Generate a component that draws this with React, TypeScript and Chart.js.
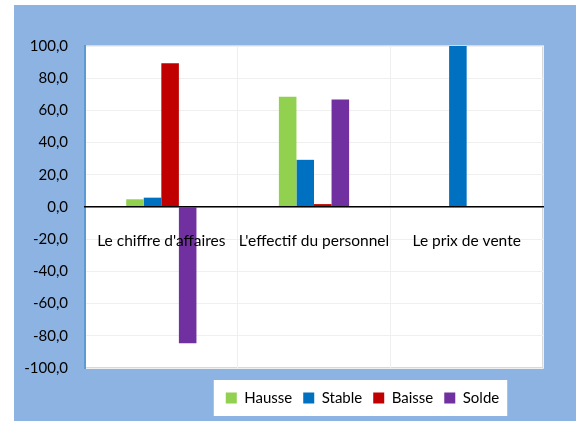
import React, { useEffect, useRef } from "react";
import { Chart, registerables } from "chart.js";

Chart.register(...registerables);

const categories = ["Le chiffre d'affaires", "L'effectif du personnel", "Le prix de vente"];
const hausse = [4.8, 68.5, 0];
const stable = [5.8, 29.3, 100];
const baisse = [89.3, 1.8, 0];
const solde = [-84.7, 66.7, 0];
const seriesNames = ["Hausse", "Stable", "Baisse", "Solde"];
const seriesColors = ["#92D050", "#0070C0", "#C00000", "#7030A0"];
const yTicks = { min: -100, max: 100, step: 20 };

const FONT = "Lato";

const bgPlugin = {
  id: "bgPlugin",
  afterLayout(chart: any) {
    const legend = chart.legend;
    if (legend) {
      const dx = 84;
      legend.left += dx;
      legend.right += dx;
    }
  },
  beforeDraw(chart: any) {
    const { ctx, chartArea } = chart;
    ctx.save();
    ctx.fillStyle = "#ffffff";
    ctx.fillRect(0, 0, chart.width, chart.height);
    ctx.fillStyle = "#8DB3E2";
    ctx.fillRect(14, 5, chart.width - 14, chart.height - 5);
    // plot area
    ctx.fillStyle = "#ffffff";
    ctx.fillRect(chartArea.left, chartArea.top, chartArea.right - chartArea.left, chartArea.bottom - chartArea.top);
    ctx.strokeStyle = "#D9D9D9";
    ctx.lineWidth = 2;
    ctx.beginPath();
    ctx.moveTo(chartArea.left, chartArea.top);
    ctx.lineTo(chartArea.right, chartArea.top);
    ctx.lineTo(chartArea.right, chartArea.bottom);
    ctx.lineTo(chartArea.left, chartArea.bottom);
    ctx.stroke();
    // legend box
    const legend = chart.legend;
    if (legend && legend.legendHitBoxes && legend.legendHitBoxes.length) {
      const hbs = legend.legendHitBoxes;
      let minL = Infinity, maxR = -Infinity;
      hbs.forEach((h: any) => {
        minL = Math.min(minL, h.left);
        maxR = Math.max(maxR, h.left + h.width);
      });
      const cy = hbs[0].top + hbs[0].height / 2;
      ctx.fillStyle = "#ffffff";
      ctx.fillRect(minL - 12, cy - 18, maxR - minL + 20, 36);
    }
    ctx.restore();
  },
};

export default function App() {
  const ref = useRef<HTMLCanvasElement | null>(null);
  useEffect(() => {
    if (!ref.current) return;
    const seriesData = [hausse, stable, baisse, solde];
    const chart = new Chart(ref.current, {
      type: "bar",
      data: {
        labels: categories,
        datasets: seriesNames.map((n, i) => ({
          label: n,
          data: seriesData[i],
          backgroundColor: seriesColors[i],
          borderWidth: 0,
          categoryPercentage: 0.46,
          barPercentage: 1.0,
        })),
      },
      options: {
        animation: false,
        responsive: false,
        devicePixelRatio: 1,
        layout: { padding: { left: 14, right: 33, top: 46, bottom: 5.5 } },
        plugins: {
          tooltip: { enabled: false },
          legend: {
            position: "bottom",
            labels: {
              boxWidth: 11,
              boxHeight: 11,
              padding: 11,
              color: "#000000",
              font: { family: FONT, size: 15 },
            },
          },
        },
        scales: {
          x: {
            type: "category",
            position: { y: 0 } as any,
            grid: { color: "#EFEFEF", lineWidth: 1, drawTicks: false, offset: true },
            border: { color: "#000000", width: 1.5, z: 1 },
            ticks: { z: 1, padding: 25, color: "#000000", font: { family: FONT, size: 15.5 }, maxRotation: 0, autoSkip: false },
            afterFit: (s: any) => { s.height = 0; },
          },
          x2: {
            type: "category",
            position: "bottom",
            display: true,
            grid: { display: false },
            border: { display: false },
            ticks: { display: false },
            afterFit: (s: any) => { s.height = 11.5; },
          },
          y: {
            min: yTicks.min,
            max: yTicks.max,
            grid: { color: "#EFEFEF", lineWidth: 1, drawTicks: false },
            border: { color: "#5B9BD5", width: 2 },
            ticks: {
              stepSize: yTicks.step,
              padding: 17,
              color: "#000000",
              font: { family: FONT, size: 15 },
              callback: (v: any) => Number(v).toFixed(1).replace(".", ","),
            },
            afterFit: (s: any) => { s.width = 71; },
          },
        },
      } as any,
      plugins: [bgPlugin],
    });
    return () => chart.destroy();
  }, []);
  return (
    <div style={{ position: "absolute", left: 0, top: 0, width: 576, height: 421 }}>
      <canvas ref={ref} width={576} height={421} style={{ display: "block" }} />
    </div>
  );
}
